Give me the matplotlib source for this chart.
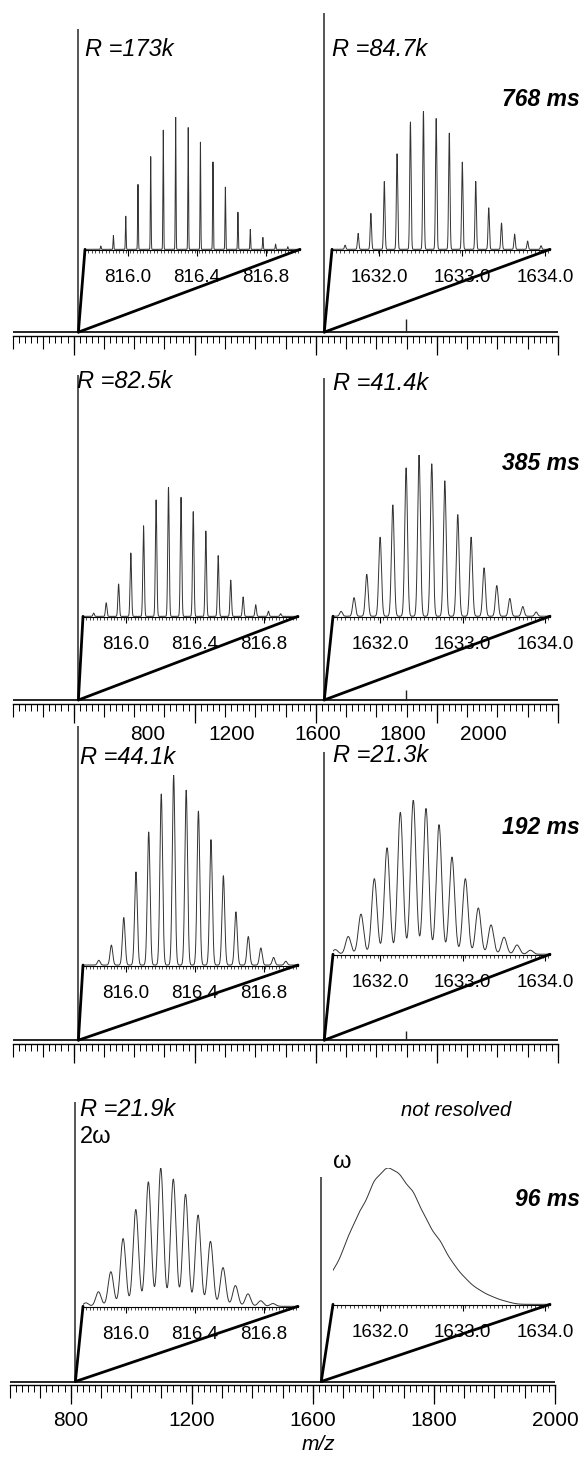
import numpy as np
import matplotlib
matplotlib.use('Agg')
import matplotlib.pyplot as plt
from matplotlib.patches import ConnectionPatch

plt.rcParams['font.family'] = ['Liberation Sans', 'DejaVu Sans']

W, H = 587, 1459

# ---------------- data ----------------
times = ['768 ms', '385 ms', '192 ms', '96 ms']
res_left_txt = ['R =173k', 'R =82.5k', 'R =44.1k', 'R =21.9k']
res_right_txt = ['R =84.7k', 'R =41.4k', 'R =21.3k', 'not resolved']
R_left = [173e3, 82.5e3, 44.1e3, 21.9e3]
R_right = [84.7e3, 41.4e3, 21.3e3, 8.0e3]

main_peak_mz = [816.0, 1614.0]
main_peak_h = [[0.94, 0.99], [0.97, 0.96], [0.98, 0.90], [0.96, 0.70]]
small_peak_mz = [1749.0]
small_peak_h = [0.04, 0.03, 0.03, 0.0]

iso_left_mz = [815.842, 815.915, 815.987, 816.058, 816.132, 816.205, 816.277, 816.350,
               816.421, 816.494, 816.566, 816.639, 816.711, 816.784, 816.858, 816.929]
iso_left_h = [0.025, 0.105, 0.25, 0.49, 0.70, 0.90, 1.0, 0.92,
              0.81, 0.66, 0.47, 0.28, 0.15, 0.09, 0.04, 0.02]
iso_right_mz = [1631.588, 1631.745, 1631.899, 1632.061, 1632.215, 1632.376, 1632.533, 1632.687,
                1632.845, 1633.002, 1633.164, 1633.321, 1633.475, 1633.633, 1633.790, 1633.952]
iso_right_h = [0.03, 0.115, 0.26, 0.49, 0.69, 0.92, 1.0, 0.945,
               0.84, 0.63, 0.49, 0.30, 0.19, 0.11, 0.06, 0.026]
shift_left = [0.0, -0.03, 0.0, -0.075]
shift_right = [0.0, -0.06, -0.13, -0.45]

main_ticks = [800, 1200, 1600, 1800, 2000]
row2_labels = ['800', '1200', '1600', '1800', '2000']
left_ticks = [816.0, 816.4, 816.8]
right_ticks = [1632.0, 1633.0, 1634.0]
xlim_main = (600, 2000)
xlim_left = (815.75, 817.0)
xlim_right = (1631.43, 1634.06)

# ---------------- layout (pixels) ----------------
main_boxes = [(13, 558, 10, 336), (13, 558, 365, 704), (13, 558, 720, 1044), (10, 555, 1090, 1385)]
inL_boxes = [(85, 300, 117, 250), (83, 298, 487, 617), (83, 298, 775, 966), (83, 298, 1168, 1307)]
inR_boxes = [(332, 550, 111, 250), (333, 550, 455, 617), (333, 550, 800, 955), (333, 550, 1168, 1305)]
txtL_pos = [(85, 50), (77, 381), (80, 758), (80, 1110)]
txtR_pos = [(332, 50), (333, 383), (333, 756), (456, 1110)]
time_pos = [(580, 100), (580, 463), (580, 828), (580, 1200)]
row2_label_x = [148, 232, 318, 403, 483]
row2_label_y = 735
xlabel_pos = (318, 1445)

fig = plt.figure(figsize=(W / 100, H / 100), dpi=100)


def px_axes(x0, x1, ytop, ybot, **kw):
    return fig.add_axes([x0 / W, 1 - ybot / H, (x1 - x0) / W, (ybot - ytop) / H], **kw)


def fwd(x):
    x = np.asarray(x, float)
    return np.where(x <= 1600, x, 1600 + 2 * (x - 1600))


def inv(d):
    d = np.asarray(d, float)
    return np.where(d <= 1600, d, 1600 + (d - 1600) / 2)


minor_main = np.concatenate([np.arange(600, 1600, 20), np.arange(1600, 2001, 10)])
medium_main = np.concatenate([np.arange(600, 1600, 100), np.arange(1600, 2001, 50)])


def profile(mz, h, R, lo, hi, shift):
    x = np.linspace(lo, hi, 5000)
    y = np.zeros_like(x)
    for m, a in zip(mz, h):
        w = m / R
        y += a * np.exp(-4 * np.log(2) * (x - (m + shift)) ** 2 / w ** 2)
    return x, y / y.max()


for i in range(4):
    ax = px_axes(*main_boxes[i])
    ax.set_xscale('function', functions=(fwd, inv))
    ax.set_xlim(*xlim_main)
    ax.set_ylim(-0.012, 1.0)
    for s in ('top', 'left', 'right'):
        ax.spines[s].set_visible(False)
    ax.spines['bottom'].set_linewidth(1.0)
    ax.set_yticks([])
    ax.set_xticks(main_ticks)
    ax.set_xticks(minor_main, minor=True)
    ax.tick_params(axis='x', which='major', length=14, width=0.9, direction='out',
                   labelsize=15, pad=5, labelbottom=(i == 3))
    ax.tick_params(axis='x', which='minor', length=5, width=0.7, direction='out')
    ax.patch.set_alpha(0)

    ax2 = ax.twiny()
    ax2.set_xscale('function', functions=(fwd, inv))
    ax2.set_xlim(*xlim_main)
    ax2.xaxis.set_ticks_position('bottom')
    ax2.set_xticks(medium_main)
    ax2.tick_params(axis='x', which='major', length=9, width=0.8, direction='out',
                    labelbottom=False, labeltop=False)
    for s in ax2.spines.values():
        s.set_visible(False)

    ax.axhline(0, color='black', lw=1.2)
    ax.vlines(main_peak_mz, 0, main_peak_h[i], color='#555555', lw=1.4)
    if small_peak_h[i] > 0:
        ax.vlines(small_peak_mz, 0, small_peak_h[i], color='#222222', lw=1.0)

    for k, (box, mz, hh, R, xl, ticks, shifts, fmt) in enumerate([
            (inL_boxes[i], iso_left_mz, iso_left_h, R_left[i], xlim_left, left_ticks, shift_left, '{:.1f}'),
            (inR_boxes[i], iso_right_mz, iso_right_h, R_right[i], xlim_right, right_ticks, shift_right, '{:.1f}')]):
        axi = px_axes(*box)
        axi.patch.set_alpha(0)
        axi.set_xlim(*xl)
        axi.set_ylim(-0.005, 1.0)
        for s in ('top', 'left', 'right'):
            axi.spines[s].set_visible(False)
        axi.spines['bottom'].set_linewidth(0.8)
        axi.set_yticks([])
        axi.set_xticks(ticks, labels=[fmt.format(t) for t in ticks])
        step = 0.02 if k == 0 else 0.05
        axi.set_xticks(np.arange(xl[0], xl[1], step).round(3), minor=True)
        axi.tick_params(axis='x', which='major', length=4, width=0.8, labelsize=13.5, pad=10)
        axi.tick_params(axis='x', which='minor', length=2, width=0.5)
        x, y = profile(mz, hh, R, xl[0], xl[1], shifts[i])
        axi.plot(x, y, color='#333333', lw=0.7)

        con_lo = ConnectionPatch(xyA=(main_peak_mz[k], 0), coordsA=ax.transData,
                                 xyB=(xl[0], 0), coordsB=axi.transData, color='black', lw=2.0)
        con_hi = ConnectionPatch(xyA=(main_peak_mz[k], 0), coordsA=ax.transData,
                                 xyB=(xl[1], 0), coordsB=axi.transData, color='black', lw=2.0)
        fig.add_artist(con_lo)
        fig.add_artist(con_hi)

    fig.text(txtL_pos[i][0] / W, 1 - txtL_pos[i][1] / H, res_left_txt[i], fontsize=17,
             style='italic', ha='left', va='center')
    if i < 3:
        fig.text(txtR_pos[i][0] / W, 1 - txtR_pos[i][1] / H, res_right_txt[i], fontsize=17,
                 style='italic', ha='left', va='center')
    else:
        fig.text(txtR_pos[i][0] / W, 1 - txtR_pos[i][1] / H, res_right_txt[i], fontsize=14.5,
                 style='italic', ha='center', va='center')
    fig.text(time_pos[i][0] / W, 1 - time_pos[i][1] / H, times[i], fontsize=16.5,
             style='italic', weight='bold', ha='right', va='center')

fig.text(80 / W, 1 - 1137 / H, '2ω', fontsize=17, ha='left', va='center')
fig.text(333 / W, 1 - 1162 / H, 'ω', fontsize=17, ha='left', va='center')
for lab, xp in zip(row2_labels, row2_label_x):
    fig.text(xp / W, 1 - row2_label_y / H, lab, fontsize=15, ha='center', va='center')
fig.text(xlabel_pos[0] / W, 1 - xlabel_pos[1] / H, 'm/z', fontsize=15, style='italic',
         ha='center', va='center')

fig.savefig('out.png', dpi=100)
